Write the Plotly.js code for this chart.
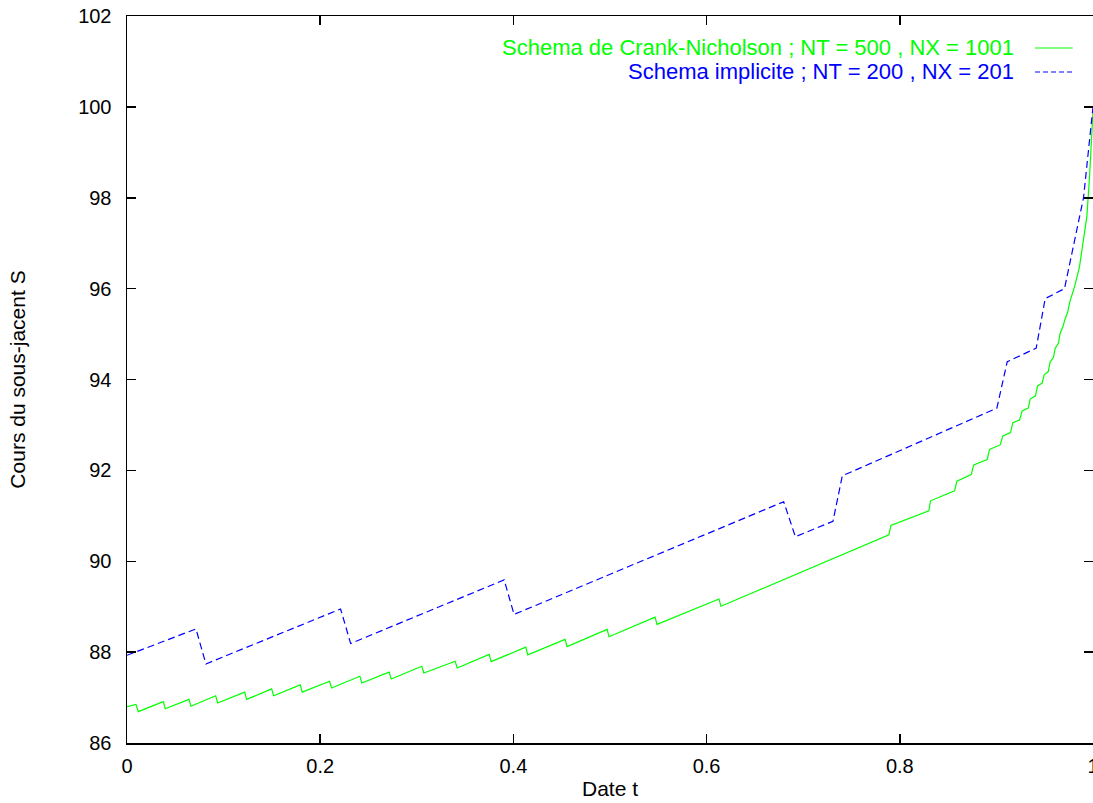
<!DOCTYPE html>
<html>
<head>
<meta charset="utf-8">
<script src="https://cdn.plot.ly/plotly-3.0.1.min.js"></script>
<style>
  html, body { margin: 0; padding: 0; background: #ffffff; }
  #chart { width: 1093px; height: 803px; }
</style>
</head>
<body>
<div id="chart"></div>
<script>
// Crank-Nicholson scheme (NT = 500, NX = 1001)
const tCN = [0, 0.0093, 0.0117, 0.0376, 0.0396, 0.0641, 0.0662, 0.0918, 0.0938, 0.1218, 0.1239,
  0.1497, 0.1518, 0.1793, 0.1814, 0.2097, 0.2118, 0.2411, 0.2431, 0.2714, 0.2735, 0.3052, 0.3073,
  0.3397, 0.3418, 0.3749, 0.3769, 0.4128, 0.4149, 0.4535, 0.4556, 0.4970, 0.4990, 0.5466, 0.5487,
  0.6128, 0.6149, 0.7887, 0.7908, 0.8301, 0.8318, 0.8567, 0.8591, 0.8740, 0.8765, 0.8905, 0.8929,
  0.9039, 0.9067, 0.9147, 0.9170, 0.9240, 0.9267, 0.9330, 0.9350, 0.9405, 0.9426, 0.9474, 0.9495,
  0.9536, 0.9557, 0.9591, 0.9609, 0.9643, 0.9660, 0.9688, 0.9708, 0.9739, 0.9760, 0.9810, 0.9860,
  0.9902, 0.9936, 0.9964, 0.9985, 1.0];
const sCN = [86.80, 86.85, 86.69, 86.91, 86.755, 86.96, 86.81, 87.04, 86.88, 87.12, 86.96,
  87.19, 87.04, 87.28, 87.12, 87.36, 87.21, 87.47, 87.32, 87.56, 87.41, 87.69, 87.54,
  87.80, 87.65, 87.95, 87.79, 88.11, 87.94, 88.28, 88.12, 88.50, 88.34, 88.77, 88.61,
  89.17, 89.01, 90.58, 90.79, 91.11, 91.33, 91.55, 91.76, 91.91, 92.12, 92.24, 92.46,
  92.56, 92.76, 92.83, 93.05, 93.11, 93.31, 93.37, 93.57, 93.64, 93.86, 93.92, 94.11,
  94.17, 94.39, 94.49, 94.69, 94.80, 95.02, 95.16, 95.31, 95.49, 95.71, 96.05, 96.48,
  97.14, 97.58, 98.45, 99.20, 99.90];

// Implicit scheme (NT = 200, NX = 201)
const tImp = [0, 0.0714, 0.0817, 0.2211, 0.2315, 0.3904, 0.4007, 0.6798, 0.6919, 0.7308, 0.7405,
  0.9005, 0.9112, 0.9412, 0.9505, 0.9705, 0.9902, 1.0];
const sImp = [87.93, 88.51, 87.74, 88.95, 88.19, 89.59, 88.83, 91.31, 90.54, 90.88, 91.88,
  93.37, 94.39, 94.69, 95.78, 96.00, 98.00, 100.00];

// Tick values and labels
const xTickVals = [0, 0.2, 0.4, 0.6, 0.8, 1];
const xTickText = ["0", "0.2", "0.4", "0.6", "0.8", "1"];
const yTickVals = [86, 88, 90, 92, 94, 96, 98, 100, 102];
const yTickText = ["86", "88", "90", "92", "94", "96", "98", "100", "102"];

const labelCN = "Schema de Crank-Nicholson ; NT = 500 , NX = 1001";
const labelImp = "Schema implicite ; NT = 200 , NX = 201";
const xTitle = "Date t";
const yTitle = "Cours du sous-jacent S";

const green = "#00ff00";
const blue = "#0000ff";
const FONT = "Liberation Sans, Arial, Helvetica, sans-serif";

const traces = [
  { x: tCN, y: sCN, type: "scatter", mode: "lines", name: labelCN,
    line: { color: green, width: 1.2 }, showlegend: false, cliponaxis: false },
  { x: tImp, y: sImp, type: "scatter", mode: "lines", name: labelImp,
    line: { color: blue, width: 1.2, dash: "7px,4px" }, showlegend: false, cliponaxis: false }
];

const axisCommon = {
  showgrid: false, zeroline: false,
  showline: true, linecolor: "#000000", linewidth: 1.5,
  mirror: "ticks", ticks: "inside", ticklen: 9, tickwidth: 1.5, tickcolor: "#000000",
  tickfont: { family: FONT, size: 20, color: "#000000" },
  tickmode: "array", ticklabeloverflow: "allow"
};

const layout = {
  width: 1093, height: 803,
  paper_bgcolor: "#ffffff", plot_bgcolor: "#ffffff",
  margin: { l: 127, r: 0, t: 16, b: 60 },
  font: { family: FONT, size: 20, color: "#000000" },
  xaxis: Object.assign({}, axisCommon, {
    range: [0, 1], tickvals: xTickVals, ticktext: xTickText,
    ticklabelstandoff: 4,
    title: { text: xTitle, font: { family: FONT, size: 21, color: "#000000" }, standoff: 6 }
  }),
  yaxis: Object.assign({}, axisCommon, {
    range: [86, 102], tickvals: yTickVals, ticktext: yTickText,
    ticklabelstandoff: 10,
    title: { text: yTitle, font: { family: FONT, size: 21, color: "#000000" }, standoff: 47 }
  }),
  annotations: [
    { xref: "paper", yref: "paper", x: 0.9203, y: 0.956, xanchor: "right", yanchor: "middle",
      text: labelCN, showarrow: false, font: { family: FONT, size: 22, color: green } },
    { xref: "paper", yref: "paper", x: 0.9203, y: 0.923, xanchor: "right", yanchor: "middle",
      text: labelImp, showarrow: false, font: { family: FONT, size: 22, color: blue } }
  ],
  shapes: [
    { type: "line", xref: "paper", yref: "paper", x0: 0.940, x1: 0.979, y0: 0.956, y1: 0.956,
      line: { color: green, width: 1.2 } },
    { type: "line", xref: "paper", yref: "paper", x0: 0.940, x1: 0.979, y0: 0.923, y1: 0.923,
      line: { color: blue, width: 1.2, dash: "5px,3px" } }
  ],
  showlegend: false
};

Plotly.newPlot("chart", traces, layout, { staticPlot: true, displayModeBar: false });
</script>
</body>
</html>
